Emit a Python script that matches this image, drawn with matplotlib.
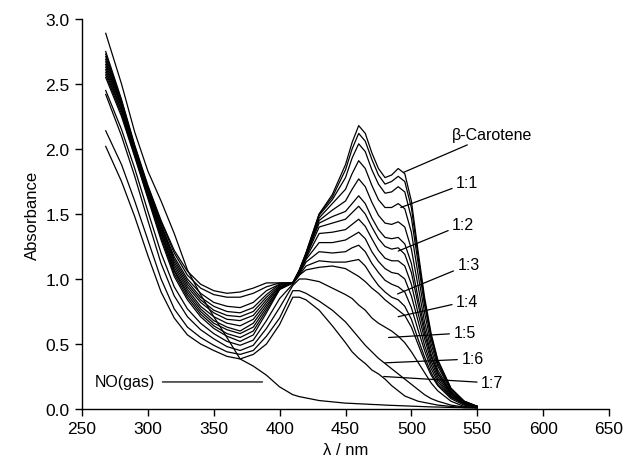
import matplotlib

matplotlib.use("Agg")
import matplotlib.pyplot as plt  # noqa: E402

plt.rcParams["font.family"] = ["Liberation Sans", "DejaVu Sans"]

# wavelength grid (nm) shared by every spectrum
wavelength = [268, 280, 290, 300, 310, 320, 330, 340, 350, 360, 370, 380, 390,
              400, 410, 415, 420, 430, 440, 450, 455, 460, 465, 470, 475, 480,
              485, 490, 495, 500, 505, 510, 515, 520, 530, 540, 550]

# titration spectra, beta-carotene first, then increasing NO additions
spec_00 = [2.75, 2.38, 2.03, 1.72, 1.45, 1.22, 1.06, 0.96, 0.91, 0.89, 0.90, 0.93, 0.97,
           0.97, 0.97, 1.07, 1.20, 1.50, 1.65, 1.88, 2.05, 2.18, 2.12, 1.97, 1.85, 1.78,
           1.80, 1.85, 1.81, 1.60, 1.22, 0.86, 0.58, 0.38, 0.16, 0.06, 0.02]
spec_01 = [2.73, 2.37, 2.02, 1.71, 1.44, 1.20, 1.03, 0.93, 0.88, 0.86, 0.86, 0.89, 0.94,
           0.97, 0.97, 1.07, 1.20, 1.50, 1.63, 1.84, 2.00, 2.12, 2.06, 1.92, 1.80, 1.73,
           1.75, 1.79, 1.75, 1.55, 1.18, 0.83, 0.56, 0.37, 0.16, 0.06, 0.02]
spec_02 = [2.71, 2.36, 2.01, 1.70, 1.42, 1.17, 1.00, 0.89, 0.82, 0.79, 0.78, 0.82, 0.91,
           0.96, 0.97, 1.065, 1.19, 1.49, 1.61, 1.78, 1.93, 2.04, 1.98, 1.84, 1.73, 1.66,
           1.67, 1.71, 1.67, 1.47, 1.13, 0.80, 0.54, 0.35, 0.15, 0.06, 0.02]
spec_03 = [2.69, 2.35, 2.00, 1.69, 1.41, 1.15, 0.98, 0.86, 0.79, 0.75, 0.74, 0.78, 0.88,
           0.96, 0.97, 1.065, 1.19, 1.47, 1.58, 1.69, 1.81, 1.91, 1.85, 1.72, 1.61, 1.55,
           1.55, 1.58, 1.54, 1.36, 1.04, 0.74, 0.50, 0.33, 0.14, 0.05, 0.02]
spec_04 = [2.67, 2.34, 1.99, 1.68, 1.40, 1.13, 0.96, 0.84, 0.76, 0.72, 0.71, 0.75, 0.86,
           0.95, 0.97, 1.06, 1.18, 1.45, 1.53, 1.60, 1.69, 1.77, 1.71, 1.59, 1.49, 1.43,
           1.42, 1.44, 1.40, 1.23, 0.95, 0.67, 0.46, 0.30, 0.13, 0.05, 0.02]
spec_05 = [2.65, 2.33, 1.99, 1.67, 1.38, 1.11, 0.94, 0.82, 0.74, 0.69, 0.68, 0.72, 0.84,
           0.94, 0.97, 1.06, 1.18, 1.43, 1.48, 1.52, 1.58, 1.64, 1.58, 1.47, 1.38, 1.32,
           1.31, 1.32, 1.27, 1.12, 0.86, 0.62, 0.42, 0.28, 0.12, 0.05, 0.02]
spec_06 = [2.63, 2.32, 1.98, 1.66, 1.37, 1.09, 0.92, 0.79, 0.71, 0.66, 0.64, 0.69, 0.82,
           0.94, 0.97, 1.055, 1.17, 1.40, 1.43, 1.46, 1.51, 1.56, 1.50, 1.40, 1.31, 1.25,
           1.23, 1.24, 1.19, 1.05, 0.81, 0.58, 0.40, 0.27, 0.12, 0.05, 0.02]
spec_07 = [2.61, 2.30, 1.97, 1.65, 1.35, 1.07, 0.90, 0.77, 0.68, 0.63, 0.60, 0.66, 0.80,
           0.93, 0.97, 1.05, 1.16, 1.35, 1.36, 1.38, 1.42, 1.46, 1.405, 1.31, 1.22, 1.16,
           1.14, 1.14, 1.10, 0.96, 0.74, 0.54, 0.37, 0.25, 0.11, 0.045, 0.015]
spec_08 = [2.59, 2.29, 1.96, 1.64, 1.34, 1.06, 0.88, 0.75, 0.66, 0.61, 0.58, 0.63, 0.78,
           0.93, 0.97, 1.045, 1.15, 1.28, 1.28, 1.30, 1.33, 1.36, 1.31, 1.21, 1.135, 1.08,
           1.05, 1.04, 1.00, 0.87, 0.68, 0.49, 0.34, 0.23, 0.10, 0.04, 0.015]
spec_09 = [2.57, 2.27, 1.95, 1.63, 1.32, 1.04, 0.86, 0.73, 0.64, 0.58, 0.55, 0.60, 0.76,
           0.92, 0.97, 1.04, 1.13, 1.21, 1.20, 1.21, 1.24, 1.26, 1.21, 1.12, 1.05, 0.99,
           0.96, 0.94, 0.90, 0.78, 0.61, 0.45, 0.31, 0.21, 0.095, 0.04, 0.015]
spec_10 = [2.55, 2.25, 1.94, 1.62, 1.30, 1.02, 0.84, 0.71, 0.62, 0.56, 0.52, 0.57, 0.74,
           0.92, 0.97, 1.03, 1.10, 1.14, 1.13, 1.13, 1.14, 1.15, 1.10, 1.02, 0.95, 0.90,
           0.86, 0.84, 0.79, 0.69, 0.54, 0.40, 0.28, 0.19, 0.09, 0.04, 0.01]
spec_11 = [2.45, 2.15, 1.85, 1.52, 1.20, 0.94, 0.77, 0.66, 0.58, 0.52, 0.49, 0.53, 0.68,
           0.85, 0.96, 1.03, 1.07, 1.09, 1.10, 1.08, 1.05, 1.02, 0.98, 0.93, 0.89, 0.84,
           0.80, 0.76, 0.72, 0.63, 0.50, 0.37, 0.26, 0.18, 0.08, 0.03, 0.01]
spec_12 = [2.42, 2.10, 1.79, 1.45, 1.12, 0.87, 0.71, 0.61, 0.54, 0.48, 0.45, 0.49, 0.62,
           0.78, 0.95, 1.00, 1.00, 0.98, 0.93, 0.88, 0.85, 0.80, 0.76, 0.70, 0.66, 0.63,
           0.60, 0.56, 0.51, 0.44, 0.36, 0.28, 0.20, 0.14, 0.06, 0.02, 0.01]
spec_13 = [2.14, 1.88, 1.60, 1.30, 1.00, 0.77, 0.63, 0.55, 0.49, 0.44, 0.42, 0.45, 0.56,
           0.70, 0.91, 0.91, 0.89, 0.83, 0.76, 0.67, 0.61, 0.55, 0.49, 0.44, 0.39, 0.35,
           0.31, 0.27, 0.23, 0.19, 0.15, 0.11, 0.08, 0.06, 0.03, 0.015, 0.01]
spec_14 = [2.02, 1.75, 1.48, 1.18, 0.90, 0.70, 0.57, 0.50, 0.45, 0.405, 0.385, 0.42, 0.50,
           0.65, 0.86, 0.86, 0.84, 0.76, 0.64, 0.51, 0.44, 0.39, 0.35, 0.30, 0.27, 0.23,
           0.18, 0.14, 0.10, 0.08, 0.06, 0.05, 0.04, 0.03, 0.02, 0.01, 0.01]

# NO(gas) reference spectrum
spec_no = [2.89, 2.50, 2.13, 1.83, 1.60, 1.35, 1.07, 0.88, 0.71, 0.55, 0.385, 0.33, 0.26,
           0.17, 0.11, 0.095, 0.085, 0.065, 0.055, 0.045, 0.043, 0.04, 0.038, 0.035, 0.033,
           0.03, 0.028, 0.026, 0.024, 0.022, 0.02, 0.018, 0.016, 0.015, 0.012, 0.01, 0.008]

spectra = [spec_00, spec_01, spec_02, spec_03, spec_04, spec_05, spec_06, spec_07,
           spec_08, spec_09, spec_10, spec_11, spec_12, spec_13, spec_14, spec_no]

# label text, point on curve (nm, A), text anchor (nm, A)
label_text = ["\u03b2-Carotene", "1:1", "1:2", "1:3", "1:4", "1:5", "1:6", "1:7"]
label_tip = [(494, 1.82), (492, 1.55), (490, 1.215), (489.5, 0.885),
             (490, 0.71), (482.7, 0.55), (480, 0.355), (479, 0.25)]
label_pos = [(531, 2.115), (534, 1.74), (531, 1.42), (535, 1.11),
             (534, 0.83), (532, 0.585), (538, 0.385), (553, 0.2)]

fig = plt.figure(figsize=(6.27, 4.6), dpi=100)
ax = fig.add_axes([0.1308, 0.1087, 0.8405, 0.8478])

for s in spectra:
    ax.plot(wavelength, s, color="black", lw=0.9)

for txt, tip, pos in zip(label_text, label_tip, label_pos):
    ax.annotate(txt, xy=tip, xytext=pos, fontsize=11.5, va="center", ha="left",
                arrowprops=dict(arrowstyle="-", color="black", lw=0.9,
                                shrinkA=1, shrinkB=0))

ax.annotate("NO(gas)", xy=(387, 0.208), xytext=(260, 0.208), fontsize=11.5,
            va="center", ha="left",
            arrowprops=dict(arrowstyle="-", color="black", lw=0.9,
                            shrinkA=3, shrinkB=0))

ax.set_xlim(250, 650)
ax.set_ylim(0, 3.0)
ax.set_xticks([250, 300, 350, 400, 450, 500, 550, 600, 650])
ax.set_yticks([0.0, 0.5, 1.0, 1.5, 2.0, 2.5, 3.0])
ax.set_yticklabels([f"{v:.1f}" for v in [0.0, 0.5, 1.0, 1.5, 2.0, 2.5, 3.0]])
ax.tick_params(direction="out", length=5, width=1, labelsize=12.5, pad=4)
for side in ("top", "right"):
    ax.spines[side].set_visible(False)
ax.spines["left"].set_linewidth(1)
ax.spines["bottom"].set_linewidth(1)

ax.set_xlabel("\u03bb / nm", fontsize=12)
ax.set_ylabel("Absorbance", fontsize=12)

fig.savefig("out.png", dpi=100)
